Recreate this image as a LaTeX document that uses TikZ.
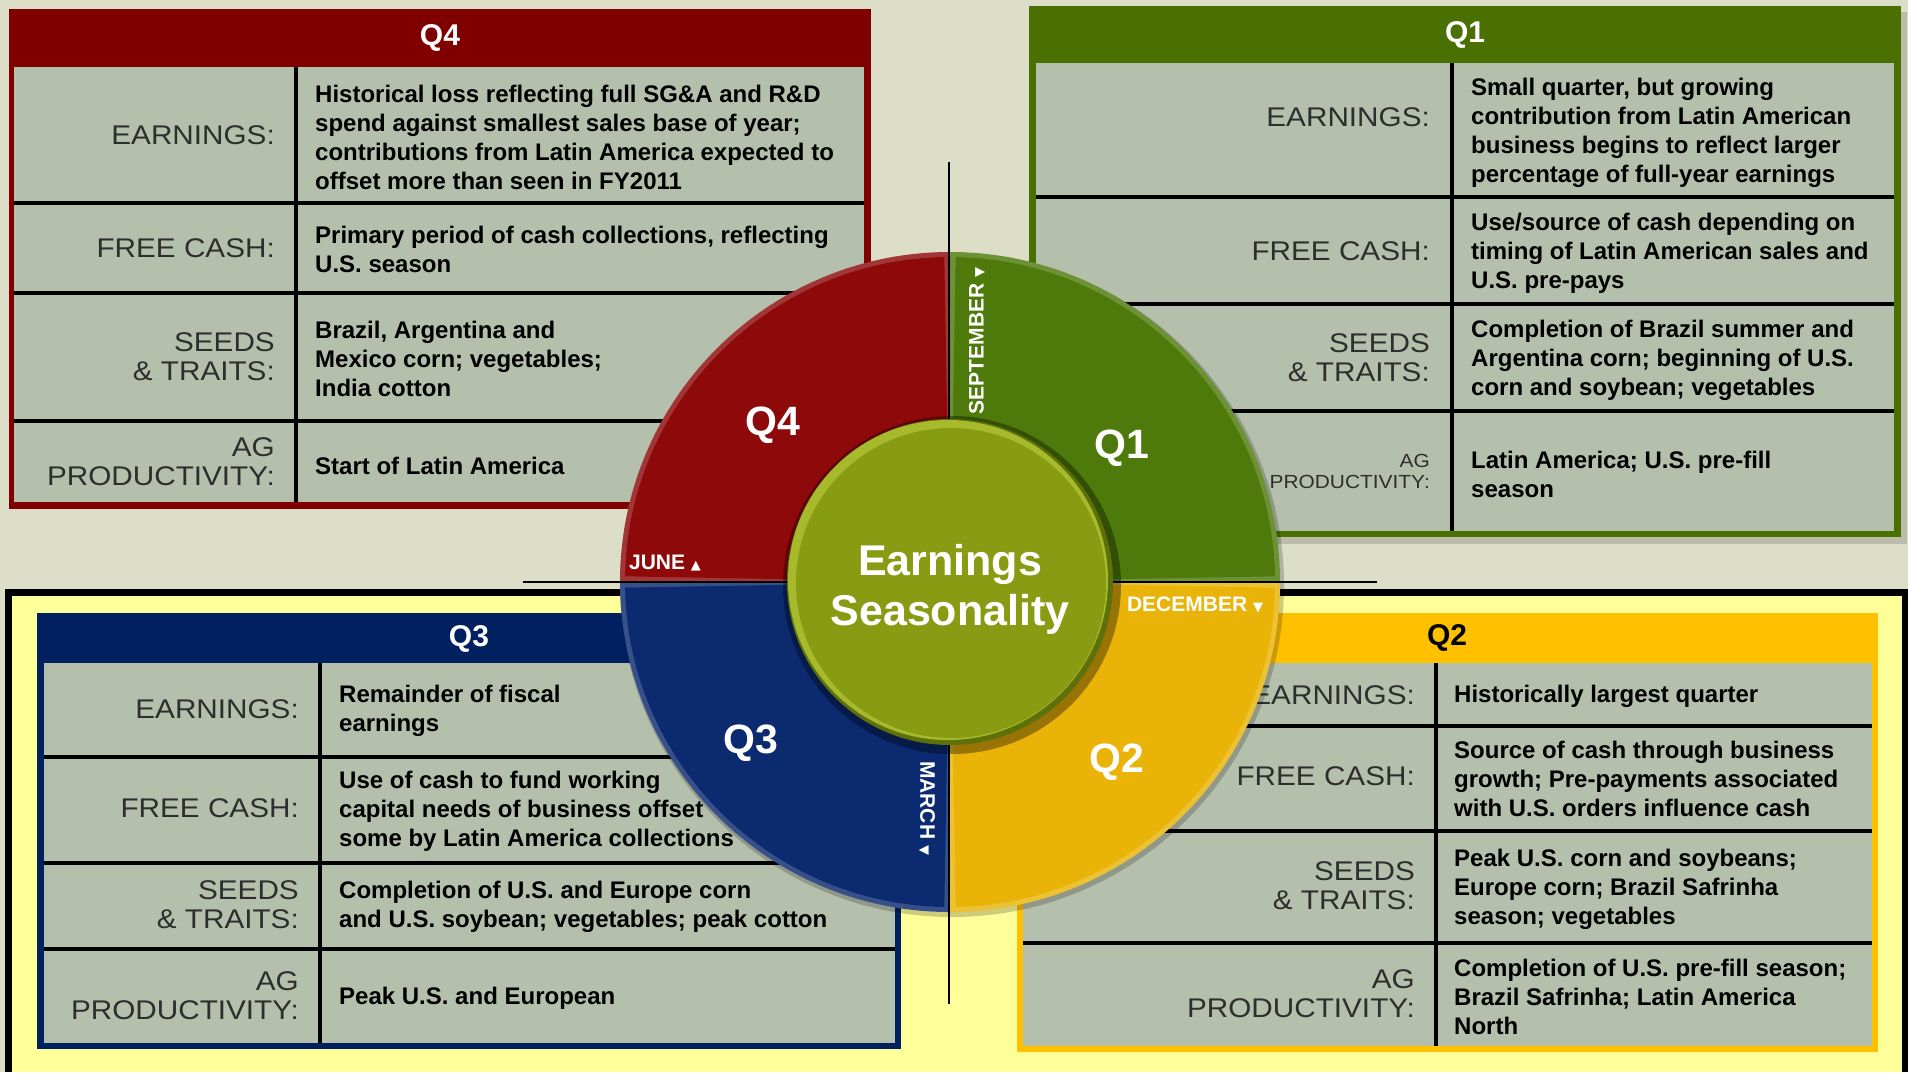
\documentclass[tikz,border=0pt]{standalone}
\usepackage{fontspec}
\usepackage{xcolor}
\usepackage{tikz}
\usetikzlibrary{positioning}

\setmainfont{Liberation Sans}
\newfontfamily\labelfont[FakeStretch=1.1]{Liberation Sans}
\newfontfamily\symfont{DejaVu Sans}

\definecolor{beige}{HTML}{DCDEC8}
\definecolor{paleyellow}{HTML}{FFFF99}
\definecolor{cellgray}{HTML}{B5C0AC}
\definecolor{labelgray}{HTML}{2E2E2E}
\definecolor{q4red}{HTML}{800000}
\definecolor{q1green}{HTML}{497000}
\definecolor{q2gold}{HTML}{FFC000}
\definecolor{q3navy}{HTML}{002060}
\definecolor{ringred}{HTML}{8E0A0A}
\definecolor{ringgreen}{HTML}{4D7A0A}
\definecolor{ringgold}{HTML}{E9B308}
\definecolor{ringblue}{HTML}{0B2A70}
\definecolor{disc}{HTML}{879C12}
\definecolor{discdark}{HTML}{5E700A}
\definecolor{disclight}{HTML}{A6BA2C}

\begin{document}
\begin{tikzpicture}[x=1pt, y=1pt,
    every node/.style={inner sep=0pt},
    hdr/.style={font=\bfseries\fontsize{30}{32}\selectfont},
    lbl/.style={anchor=east, align=right, text=labelgray, font=\labelfont\fontsize{27}{29}\selectfont},
    smalllbl/.style={anchor=east, align=right, text=labelgray, font=\labelfont\fontsize{19}{21}\selectfont},
    txt/.style={anchor=west, align=left, font=\bfseries\fontsize{24}{29}\selectfont},
    qtr/.style={text=white, font=\bfseries\fontsize{41}{41}\selectfont},
    month/.style={text=white, font=\bfseries\fontsize{21}{21}\selectfont},
    rule/.style={line width=3.5pt},
    axis/.style={line width=2.5pt}]
    \useasboundingbox (0,0) rectangle (1908,-1072);

    % Background
    \fill[beige] (0,0) rectangle (1908,-1072);
    \fill[black] (5,-589) rectangle (1908,-1072);
    \fill[paleyellow] (12,-596) rectangle (1902,-1072);

    % Q4 table
    \fill[q4red] (8.5,-8.5) rectangle (871,-508.5);
    \fill[cellgray] (14,-67) rectangle (864,-502);
    \node (q4head) [hdr, text=white] at (440,-38) {Q4};
    \draw[rule] (296,-67) -- (296,-502);
    \foreach \y in {203,293,421} \draw[rule] (14,-\y) -- (864,-\y);
    \node (q4earnL) [lbl] at (275,-135) {EARNINGS:};
    \node (q4earnT) [txt] at (315,-137) {Historical loss reflecting full SG\&A and R\&D\\spend against smallest sales base of year;\\contributions from Latin America expected to\\offset more than seen in FY2011};
    \node (q4cashL) [lbl] at (275,-248) {FREE CASH:};
    \node (q4cashT) [txt] at (315,-249) {Primary period of cash collections, reflecting\\U.S. season};
    \node (q4seedL) [lbl] at (275,-357) {SEEDS\\\& TRAITS:};
    \node (q4seedT) [txt] at (315,-359) {Brazil, Argentina and\\Mexico corn; vegetables;\\India cotton};
    \node (q4agL) [lbl] at (275,-462) {AG\\PRODUCTIVITY:};
    \node (q4agT) [txt] at (315,-466) {Start of Latin America};

    % Q1 table
    \fill[black, opacity=0.15] (1035,-12) rectangle (1907,-544);
    \fill[q1green] (1029,-6) rectangle (1900.5,-537);
    \fill[cellgray] (1036,-63) rectangle (1894,-531);
    \node (q1head) [hdr, text=white] at (1465,-35) {Q1};
    \draw[rule] (1452,-63) -- (1452,-531);
    \foreach \y in {197,304,411} \draw[rule] (1036,-\y) -- (1894,-\y);
    \node (q1earnL) [lbl] at (1430,-117) {EARNINGS:};
    \node (q1earnT) [txt] at (1471,-133) {Small quarter, but growing\\contribution from Latin American\\business begins to reflect larger\\percentage of full-year earnings};
    \node (q1cashL) [lbl] at (1430,-251) {FREE CASH:};
    \node (q1cashT) [txt] at (1471,-253) {Use/source of cash depending on\\timing of Latin American sales and\\U.S. pre-pays};
    \node (q1seedL) [lbl] at (1430,-358) {SEEDS\\\& TRAITS:};
    \node (q1seedT) [txt] at (1471,-360) {Completion of Brazil summer and\\Argentina corn; beginning of U.S.\\corn and soybean; vegetables};
    \node (q1agL) [smalllbl] at (1430,-471) {AG\\PRODUCTIVITY:};
    \node (q1agT) [txt] at (1471,-474) {Latin America; U.S. pre-fill\\season};

    % Q3 table
    \fill[q3navy] (36.5,-613) rectangle (901,-1049);
    \fill[cellgray] (44,-663) rectangle (895,-1043);
    \node (q3head) [hdr, text=white] at (469,-639) {Q3};
    \draw[rule] (320,-663) -- (320,-1043);
    \foreach \y in {757,863,949} \draw[rule] (44,-\y) -- (895,-\y);
    \node (q3earnL) [lbl] at (299,-709) {EARNINGS:};
    \node (q3earnT) [txt] at (339,-711) {Remainder of fiscal\\earnings};
    \node (q3cashL) [lbl] at (299,-808) {FREE CASH:};
    \node (q3cashT) [txt] at (339,-811) {Use of cash to fund working\\capital needs of business offset\\some by Latin America collections};
    \node (q3seedL) [lbl] at (299,-905) {SEEDS\\\& TRAITS:};
    \node (q3seedT) [txt] at (339,-907) {Completion of U.S. and Europe corn\\and U.S. soybean; vegetables; peak cotton};
    \node (q3agL) [lbl] at (299,-996) {AG\\PRODUCTIVITY:};
    \node (q3agT) [txt] at (339,-998) {Peak U.S. and European};

    % Q2 table
    \fill[q2gold] (1017,-613) rectangle (1878,-1052);
    \fill[cellgray] (1023,-663) rectangle (1872,-1046);
    \node (q2head) [hdr, text=black] at (1447,-638) {Q2};
    \draw[rule] (1436,-663) -- (1436,-1046);
    \foreach \y in {726,831,943} \draw[rule] (1023,-\y) -- (1872,-\y);
    \node (q2earnL) [lbl] at (1415,-695) {EARNINGS:};
    \node (q2earnT) [txt] at (1454,-696) {Historically largest quarter};
    \node (q2cashL) [lbl] at (1415,-776) {FREE CASH:};
    \node (q2cashT) [txt] at (1454,-779) {Source of cash through business\\growth; Pre-payments associated\\with U.S. orders influence cash};
    \node (q2seedL) [lbl] at (1415,-886) {SEEDS\\\& TRAITS:};
    \node (q2seedT) [txt] at (1454,-889) {Peak U.S. corn and soybeans;\\Europe corn; Brazil Safrinha\\season; vegetables};
    \node (q2agL) [lbl] at (1415,-994) {AG\\PRODUCTIVITY:};
    \node (q2agT) [txt] at (1454,-997) {Completion of U.S. pre-fill season;\\Brazil Safrinha; Latin America\\North};

    % Ring of quarters
    \coordinate (ctr) at (950,-582);
    \coordinate (vtop) at (949,-162);
    \coordinate (vbot) at (949,-1004);
    \coordinate (hleft) at (523,-582);
    \coordinate (hright) at (1377,-582);
    \draw[axis] (vtop) -- (vbot);
    \draw[axis] (hleft) -- (hright);
    \begin{scope}[shift={(ctr)}]
        \fill[black, opacity=0.2] (2,-3) circle (332);
        \foreach \a/\c in {0/ringgreen, 90/ringred, 180/ringblue, 270/ringgold}{
            \fill[fill=\c!82!white] (\a:160) -- (\a:330) arc[start angle=\a, end angle=\a+90, radius=330]
                -- ({\a+90}:160) arc[start angle=\a+90, end angle=\a, radius=160] -- cycle;
            \fill[fill=\c] ({\a+1}:160) -- ({\a+1}:325) arc[start angle=\a+1, end angle=\a+89, radius=325]
                -- ({\a+89}:160) arc[start angle=\a+89, end angle=\a+1, radius=160] -- cycle;
        }
    \end{scope}
    \draw[axis] (vtop) -- (vbot);
    \draw[axis] (hleft) -- (hright);

    % Quarter labels and months
    \node (rq4) [qtr] at (773,-425) {Q4};
    \node (rq1) [qtr] at (1122,-448) {Q1};
    \node (rq3) [qtr] at (751,-743) {Q3};
    \node (rq2) [qtr] at (1117,-762) {Q2};
    \node (sep) [month, rotate=90] at (977,-341) {SEPTEMBER {\symfont\fontsize{13}{13}\selectfont ▼}};
    \node (dec) [month] at (1195,-605) {DECEMBER {\symfont\fontsize{13}{13}\selectfont ▼}};
    \node (mar) [month, rotate=-90] at (927,-808) {MARCH {\symfont\fontsize{13}{13}\selectfont ▼}};
    \node (jun) [month] at (665,-563) {JUNE {\symfont\fontsize{13}{13}\selectfont ▲}};

    % Centre disc
    \fill[black, opacity=0.35] ([shift={(2,-3)}]ctr) circle (169);
    \fill[discdark] (ctr) circle (163);
    \fill[disclight] ([shift={(-2,2)}]ctr) circle (160);
    \fill[disc] ([shift={(1,-1)}]ctr) circle (155);
    \node (earn) [text=white, font=\bfseries\fontsize{43}{50}\selectfont, anchor=base] at (950,-575) {Earnings};
    \node (seas) [text=white, font=\bfseries\fontsize{43}{50}\selectfont, anchor=base] at (950,-625) {Seasonality};
\end{tikzpicture}
\end{document}
